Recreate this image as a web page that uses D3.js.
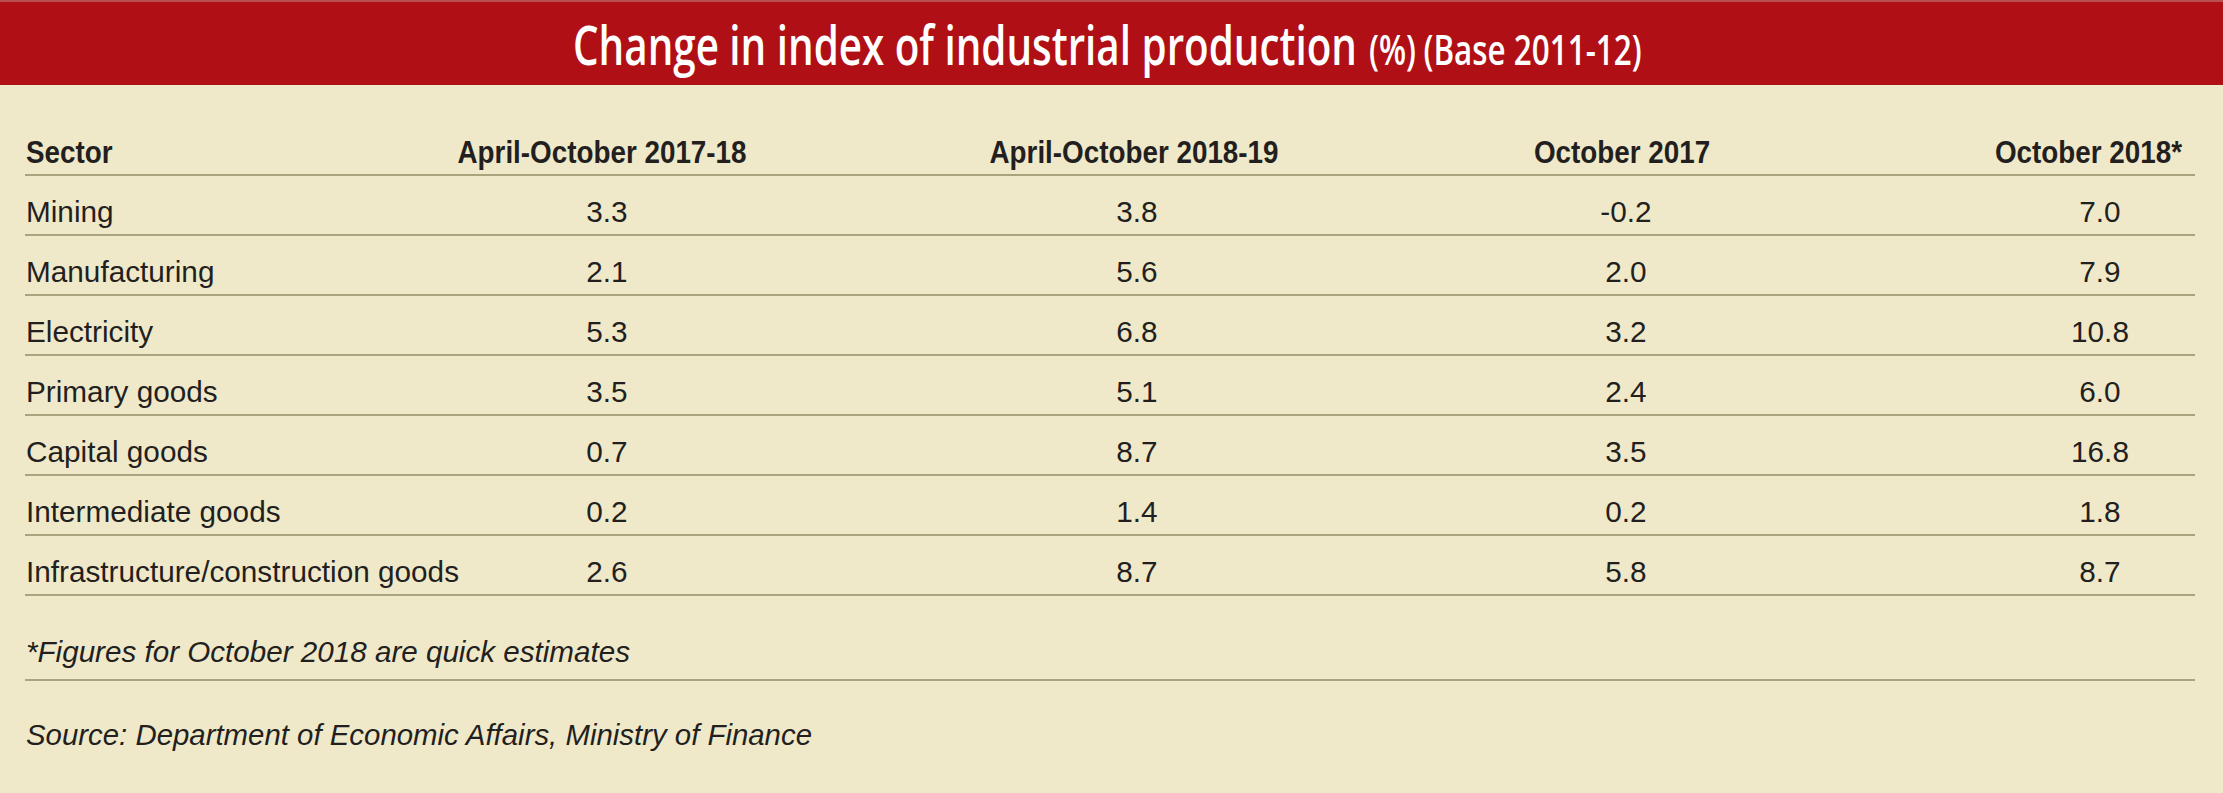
<!DOCTYPE html>
<html>
<head>
<meta charset="utf-8">
<script src="https://cdn.jsdelivr.net/npm/d3@7"></script>
<style>
  html, body { margin: 0; padding: 0; background: #EFE9C9; overflow: hidden; }
  svg { display: block; }
</style>
</head>
<body>
<svg id="chart" width="2223" height="793"></svg>
<script>
// ---- data ----
const titleMain = "Change in index of industrial production";
const titleUnit = "(%)";
const titleBase = "(Base 2011-12)";
const sectorHeader = "Sector";
const columns = ["April-October 2017-18", "April-October 2018-19", "October 2017", "October 2018*"];
const sectors = ["Mining", "Manufacturing", "Electricity", "Primary goods", "Capital goods", "Intermediate goods", "Infrastructure/construction goods"];
const aprOct2017_18 = [3.3, 2.1, 5.3, 3.5, 0.7, 0.2, 2.6];
const aprOct2018_19 = [3.8, 5.6, 6.8, 5.1, 8.7, 1.4, 8.7];
const oct2017 = [-0.2, 2.0, 3.2, 2.4, 3.5, 0.2, 5.8];
const oct2018 = [7.0, 7.9, 10.8, 6.0, 16.8, 1.8, 8.7];
const footnote = "*Figures for October 2018 are quick estimates";
const source = "Source: Department of Economic Affairs, Ministry of Finance";

// ---- layout / style ----
const W = 2223, H = 793;
const RED = "#B00F15", BG = "#EFE9C9", INK = "#231F1E", RULE = "#A8A47E";
const svg = d3.select("#chart");

svg.append("rect").attr("x", 0).attr("y", 0).attr("width", W).attr("height", H).attr("fill", BG);
svg.append("rect").attr("x", 0).attr("y", 0).attr("width", W).attr("height", 85).attr("fill", RED);
svg.append("rect").attr("x", 0).attr("y", 0).attr("width", W).attr("height", 2).attr("fill", "#B8504F");

function fitTo(node, target) {
  const w = node.getComputedTextLength();
  d3.select(node).attr("textLength", target).attr("lengthAdjust", "spacingAndGlyphs");
  return w;
}

// title: one text element, horizontally condensed by a group transform
const titleFont = "'Open Sans', 'Noto Sans', sans-serif";
const tg = svg.append("g");
const tt = tg.append("text").attr("x", 0).attr("y", 65)
  .attr("fill", "#fff").attr("font-family", titleFont).attr("font-weight", 600);
tt.append("tspan").attr("font-size", 54).text(titleMain);
tt.append("tspan").attr("font-size", 42).attr("dx", 16).text(titleUnit);
tt.append("tspan").attr("font-size", 42).attr("dx", 10).text(titleBase);
{
  const bb = tt.node().getBBox();
  const k = (1642 - 573) / (bb.x + bb.width);
  tg.attr("transform", `translate(573,0) scale(${k},1)`);
}

// scales
const y = d3.scaleBand().domain(sectors).range([175, 595]).paddingInner(0).paddingOuter(0);
const xNum = d3.scaleOrdinal().domain(columns).range([607, 1137, 1626, 2100]);
const xHead = d3.scaleOrdinal().domain(columns).range([602, 1134, 1622, 2182]);
const anchorHead = d3.scaleOrdinal().domain(columns).range(["middle", "middle", "middle", "end"]);
const X0 = 25, X1 = 2195;

const fmt = d3.formatLocale({decimal: ".", thousands: ",", grouping: [3], currency: ["", ""], minus: "-"}).format(".1f");

// rules
const ruleYs = [y.range()[0]].concat(sectors.map(s => y(s) + y.bandwidth())).concat([680]);
svg.append("g").selectAll("line").data(ruleYs).join("line")
  .attr("x1", X0).attr("x2", X1).attr("y1", d => d).attr("y2", d => d)
  .attr("stroke", RULE).attr("stroke-width", 2);

// header
const headFont = "'Liberation Sans Narrow', 'Liberation Sans', Arial, sans-serif";
const hg = svg.append("g").attr("font-family", headFont).attr("font-weight", 700)
  .attr("font-size", 32).attr("fill", INK);
hg.append("text").attr("x", 26).attr("y", 163).text(sectorHeader);
const hCols = hg.selectAll("text.col").data(columns).join("text").attr("class", "col")
  .attr("x", d => xHead(d)).attr("y", 163).attr("text-anchor", d => anchorHead(d)).text(d => d);
{
  const ref = hCols.nodes()[0];
  const k = 289 / ref.getComputedTextLength();
  hg.selectAll("text").each(function () {
    const w = this.getComputedTextLength();
    d3.select(this).attr("textLength", w * k).attr("lengthAdjust", "spacingAndGlyphs");
  });
}

// body
const bodyFont = "'Liberation Sans', Arial, sans-serif";
const bg = svg.append("g").attr("font-family", bodyFont).attr("font-size", 29).attr("fill", INK);
const series = [aprOct2017_18, aprOct2018_19, oct2017, oct2018];
const rows = bg.selectAll("g.row").data(sectors).join("g").attr("class", "row")
  .attr("transform", s => `translate(0,${y(s) + y.bandwidth() - 13})`);
rows.append("text").attr("class", "lab").attr("x", 26).attr("y", 0).text(s => s);
rows.each(function (s, i) {
  d3.select(this).selectAll("text.num").data(columns).join("text").attr("class", "num")
    .attr("x", c => xNum(c)).attr("y", 0).attr("text-anchor", "middle")
    .text((c, j) => fmt(series[j][i]));
});
{
  const ref = bg.selectAll("text.lab").nodes()[sectors.length - 1];
  const k = 433 / ref.getComputedTextLength();
  bg.selectAll("text").each(function () {
    const w = this.getComputedTextLength();
    d3.select(this).attr("textLength", w * k).attr("lengthAdjust", "spacingAndGlyphs");
  });
}

// notes
const nf = svg.append("text").attr("x", 26).attr("y", 662).attr("font-family", bodyFont)
  .attr("font-style", "italic").attr("font-size", 29).attr("fill", INK).text(footnote);
fitTo(nf.node(), 604);
const ns = svg.append("text").attr("x", 26).attr("y", 745).attr("font-family", bodyFont)
  .attr("font-style", "italic").attr("font-size", 29).attr("fill", INK).text(source);
fitTo(ns.node(), 786);
</script>
</body>
</html>
